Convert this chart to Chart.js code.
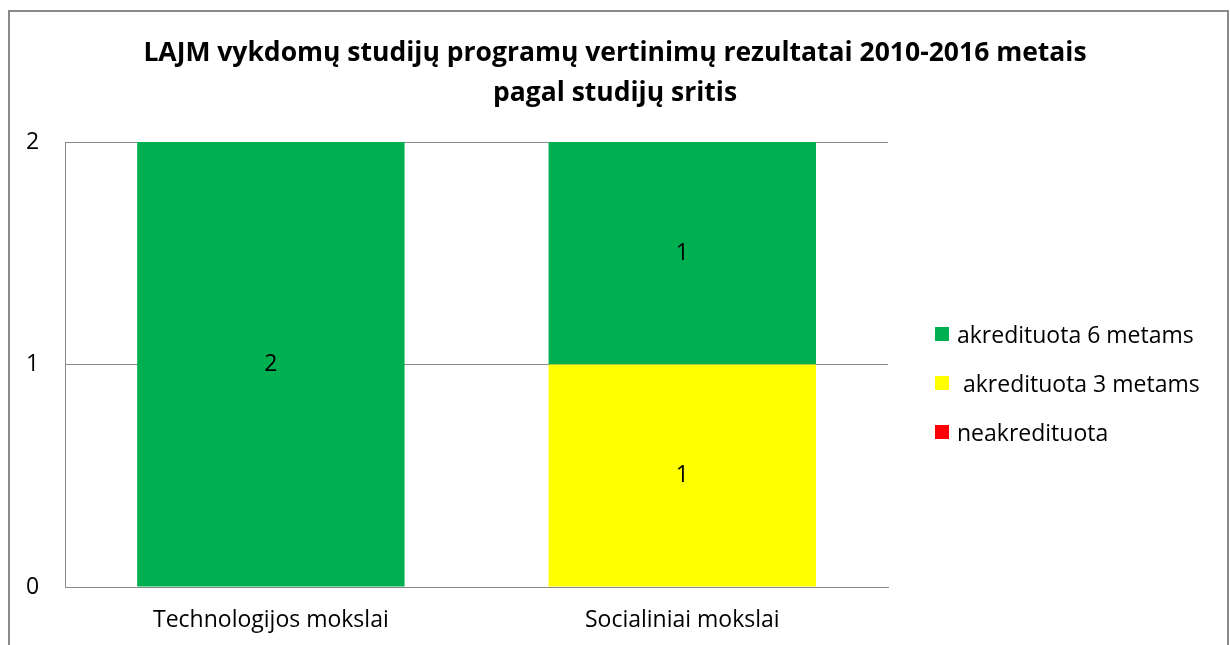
<!DOCTYPE html>
<html>
<head>
<meta charset="utf-8">
<script src="https://cdn.jsdelivr.net/npm/chart.js@4/dist/chart.umd.min.js"></script>
<style>
    html, body { margin: 0; padding: 0; background: #fff; }
    #wrap { position: relative; width: 1230px; height: 645px; overflow: hidden; }
    #frame { position: absolute; left: 8px; top: 10px; width: 1221px; height: 700px; border: 2px solid #8a8a8a; box-sizing: border-box; }
    #chart { position: absolute; left: 0; top: 0; }
    #legend { position: absolute; left: 935px; top: 319px; font-family: "Open Sans", sans-serif; font-size: 23px; color: #000; }
    #legend .item { display: flex; align-items: center; height: 30px; margin-bottom: 19px; white-space: pre; }
    #legend .box { width: 14px; height: 14px; margin-right: 8px; }
</style>
</head>
<body>
<div id="wrap">
    <canvas id="chart" width="1230" height="645"></canvas>
    <div id="frame"></div>
    <div id="legend"></div>
</div>
<script>
const categories = ['Technologijos mokslai', 'Socialiniai mokslai'];
const titleLines = ['LAJM vykdomų studijų programų vertinimų rezultatai 2010-2016 metais', 'pagal studijų sritis'];

// series, bottom of the stack first
const labelNeakred = 'neakredituota';
const dataNeakred = [0, 0];
const label3 = ' akredituota 3 metams';
const data3 = [0, 1];
const label6 = 'akredituota 6 metams';
const data6 = [2, 1];

const colorNeakred = '#ff0000';
const color3 = '#ffff00';
const color6 = '#00b050';

const yTicks = [0, 1, 2];

const fontFamily = '"Open Sans", sans-serif';
const labelSize = 23;

// value labels in the middle of each segment
const valueLabels = {
    id: 'valueLabels',
    afterDatasetsDraw(chart) {
        const ctx = chart.ctx;
        ctx.save();
        ctx.font = labelSize + 'px ' + fontFamily;
        ctx.fillStyle = '#000';
        ctx.textAlign = 'center';
        ctx.textBaseline = 'middle';
        chart.data.datasets.forEach((ds, i) => {
            const meta = chart.getDatasetMeta(i);
            meta.data.forEach((bar, j) => {
                const v = ds.data[j];
                if (!v) return;
                ctx.fillText(String(v), bar.x, (bar.y + bar.base) / 2);
            });
        });
        ctx.restore();
    }
};

const ctx = document.getElementById('chart').getContext('2d');
const chart = new Chart(ctx, {
    type: 'bar',
    data: {
        labels: categories,
        datasets: [
            { label: labelNeakred, data: dataNeakred, backgroundColor: colorNeakred, yAxisID: 'y' },
            { label: label3, data: data3, backgroundColor: color3, yAxisID: 'y' },
            { label: label6, data: data6, backgroundColor: color6, yAxisID: 'y' }
        ]
    },
    options: {
        responsive: false,
        animation: false,
        layout: { padding: { left: 0, right: 0, top: 0, bottom: 9.4 } },
        datasets: { bar: { categoryPercentage: 0.65, barPercentage: 1 } },
        plugins: {
            legend: { display: false },
            tooltip: { enabled: false },
            title: {
                display: true,
                text: titleLines,
                color: '#000',
                font: { family: fontFamily, size: 26.5, weight: 'bold', lineHeight: 40 / 26.5 },
                padding: { top: 33, bottom: 29 }
            }
        },
        scales: {
            x: {
                stacked: true,
                grid: { display: false, drawTicks: true, tickLength: 19 },
                border: { display: true, color: '#8a8a8a', width: 1 },
                ticks: { color: '#000', font: { family: fontFamily, size: labelSize }, padding: 1 }
            },
            y: {
                stacked: true,
                min: 0,
                max: 2,
                afterBuildTicks(scale) { scale.ticks = yTicks.map(v => ({ value: v })); },
                grid: { color: '#8a8a8a', drawTicks: false },
                border: { display: true, color: '#8a8a8a', width: 1 },
                ticks: { color: '#000', font: { family: fontFamily, size: labelSize }, padding: 26 }
            },
            // empty box on the right that keeps room for the legend
            side: {
                type: 'linear',
                position: 'right',
                grid: { display: false },
                border: { display: false },
                ticks: { display: false },
                afterFit(scale) { scale.width = 342; }
            }
        }
    },
    plugins: [valueLabels]
});

// legend in the same order as the reference (top of stack first)
const legendEl = document.getElementById('legend');
chart.data.datasets.slice().reverse().forEach(ds => {
    const item = document.createElement('div');
    item.className = 'item';
    const box = document.createElement('span');
    box.className = 'box';
    box.style.background = ds.backgroundColor;
    const txt = document.createElement('span');
    txt.textContent = ds.label;
    item.appendChild(box);
    item.appendChild(txt);
    legendEl.appendChild(item);
});
</script>
</body>
</html>
